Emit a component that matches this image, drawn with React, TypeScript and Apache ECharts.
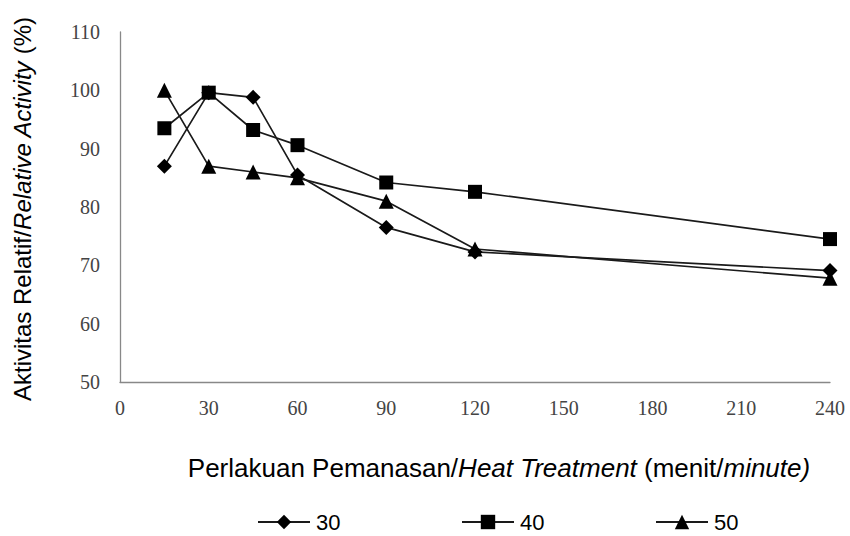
import React, { useEffect, useRef } from "react";
import * as echarts from "echarts";

const times = [15, 30, 45, 60, 90, 120, 240];
const s30 = [87.0, 99.6, 98.8, 85.5, 76.5, 72.3, 69.1];
const s40 = [93.5, 99.6, 93.2, 90.6, 84.2, 82.6, 74.5];
const s50 = [100.0, 87.0, 86.0, 85.0, 81.0, 72.8, 67.8];
const seriesNames = ["30", "40", "50"];
const yTicks = { min: 50, max: 110, interval: 10 };
const xTicks = { min: 0, max: 240, interval: 30 };

const pair = (vals: number[]) => times.map((t, i) => [t, vals[i]]);

export default function App() {
  const ref = useRef<HTMLDivElement>(null);
  useEffect(() => {
    if (!ref.current) return;
    const chart = echarts.init(ref.current, null, { renderer: "svg" });
    const lineStyle = { color: "#1a1a1a", width: 1.7 };
    const mk = (name: string, vals: number[], symbol: string, size: number) => ({
      name,
      type: "line",
      data: pair(vals),
      symbol,
      symbolSize: size,
      itemStyle: { color: "#000" },
      lineStyle,
      z: 3,
    });
    const sans = "Liberation Sans, Arial, sans-serif";
    const serif = "Liberation Serif, Times New Roman, serif";
    const legendBase = {
      orient: "horizontal",
      top: 511,
      padding: 0,
      itemWidth: 52,
      itemHeight: 18,
      itemGap: 6,
      textStyle: { fontFamily: sans, fontSize: 22, lineHeight: 20, color: "#000", padding: [0, 0, 0, 1] },
    };
    const richY = {
      n: { fontFamily: sans, fontSize: 24, fill: "#000" },
      i: { fontFamily: sans, fontSize: 24, fontStyle: "italic", fill: "#000" },
    };
    const richX = {
      n: { fontFamily: sans, fontSize: 26, fill: "#000" },
      i: { fontFamily: sans, fontSize: 26, fontStyle: "italic", fill: "#000" },
    };
    chart.setOption({
      animation: false,
      backgroundColor: "#fff",
      grid: { left: 120, right: 20, top: 32, bottom: 154, containLabel: false },
      xAxis: {
        type: "value",
        min: xTicks.min,
        max: xTicks.max,
        interval: xTicks.interval,
        axisLine: { show: true, lineStyle: { color: "#888", width: 1.3 } },
        axisTick: { show: false },
        splitLine: { show: false },
        axisLabel: {
          margin: 16,
          fontFamily: serif,
          fontSize: 20,
          color: "#444",
        },
      },
      yAxis: {
        type: "value",
        min: yTicks.min,
        max: yTicks.max,
        interval: yTicks.interval,
        axisLine: { show: true, lineStyle: { color: "#888", width: 1.3 } },
        axisTick: { show: false },
        splitLine: { show: false },
        axisLabel: {
          margin: 20,
          fontFamily: serif,
          fontSize: 20,
          color: "#444",
        },
      },
      legend: [
        { ...legendBase, left: 257, data: [seriesNames[0]] },
        { ...legendBase, left: 461, data: [seriesNames[1]] },
        { ...legendBase, left: 655, data: [seriesNames[2]] },
      ],
      graphic: [
        {
          type: "text",
          x: 22,
          y: 209,
          rotation: Math.PI / 2,
          style: {
            text: "{n|Aktivitas Relatif/}{i|Relative Activity}{n| (%)}",
            align: "center",
            verticalAlign: "middle",
            rich: richY,
          },
        },
        {
          type: "text",
          x: 499,
          y: 468,
          style: {
            text: "{n|Perlakuan Pemanasan/}{i|Heat Treatment}{n| (menit/}{i|minute)}",
            align: "center",
            verticalAlign: "middle",
            rich: richX,
          },
        },
      ],
      series: [
        mk(seriesNames[0], s30, "diamond", 15),
        mk(seriesNames[1], s40, "rect", 14),
        mk(seriesNames[2], s50, "triangle", 15),
      ],
    });
    return () => chart.dispose();
  }, []);
  return <div ref={ref} style={{ width: 850, height: 536, position: "absolute", left: 0, top: 0 }} />;
}
